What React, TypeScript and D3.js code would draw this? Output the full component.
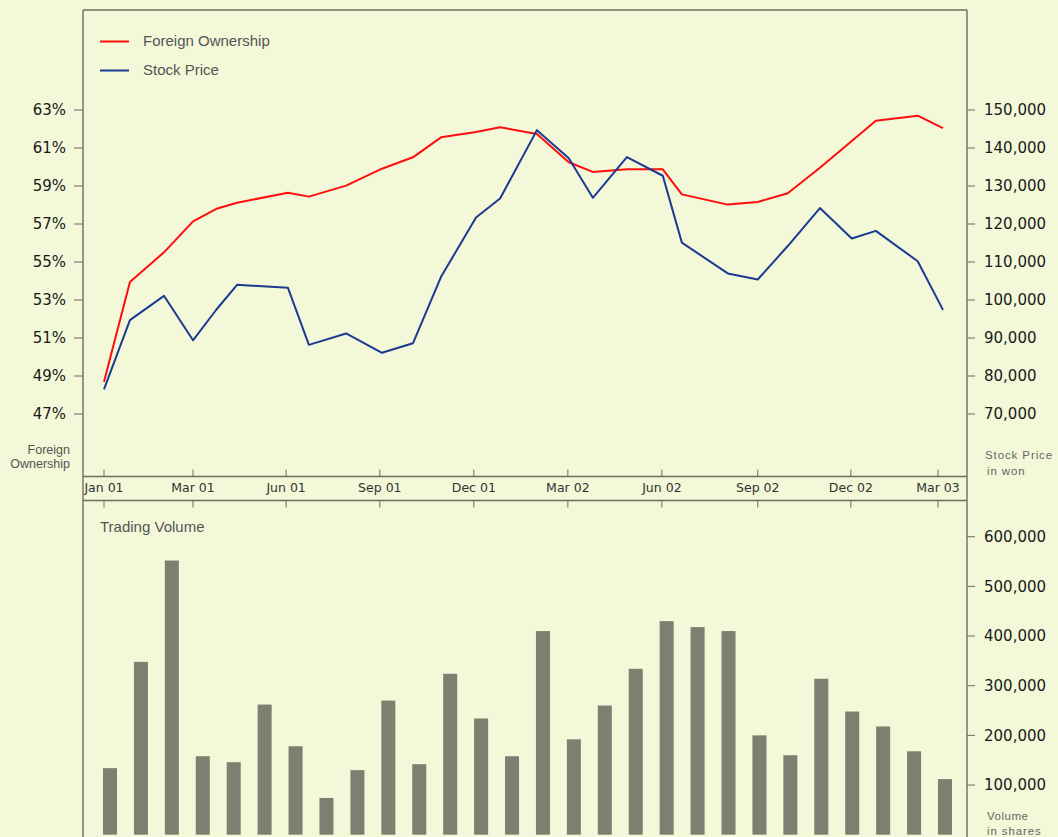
import { scaleLinear, scaleBand, line, format } from 'd3'

// values
const xTickLabels = ['Jan 01', 'Mar 01', 'Jun 01', 'Sep 01', 'Dec 01', 'Mar 02', 'Jun 02', 'Sep 02', 'Dec 02', 'Mar 03']
// tick positions in months since Jan 01 (the original spacing is slightly uneven)
const xTickMonths = [0, 2.85, 5.83, 8.83, 11.84, 14.85, 17.86, 20.93, 23.91, 26.7]

const pointMonths = [0, 0.83, 1.92, 2.85, 3.6, 4.26, 5.89, 6.56, 7.75, 8.9, 9.89, 10.79, 11.91, 12.68, 13.86,
  14.88, 15.65, 16.74, 17.89, 18.5, 19.97, 20.93, 21.89, 22.92, 23.94, 24.71, 26.05, 26.86]
const ownershipPct = [48.7, 53.95, 55.51, 57.14, 57.8, 58.12, 58.65, 58.44, 59.02, 59.91, 60.51, 61.56, 61.84, 62.09, 61.74,
  60.25, 59.74, 59.88, 59.88, 58.56, 58.02, 58.16, 58.62, 59.96, 61.37, 62.44, 62.7, 62.05]
const stockPrice = [76500, 94700, 101100, 89400, 97500, 104000, 103200, 88200, 91200, 86100, 88600, 106100, 121700, 126700, 144700,
  137300, 126900, 137600, 132700, 115100, 107000, 105400, 114200, 124200, 116200, 118200, 110200, 97400]

const volume = [134000, 348000, 552000, 158000, 146000, 262000, 178000, 74000, 130000, 270000, 142000, 324000, 234000, 158000,
  410000, 192000, 260000, 334000, 430000, 418000, 410000, 200000, 160000, 314000, 248000, 218000, 168000, 112000]

const pctTicks = [47, 49, 51, 53, 55, 57, 59, 61, 63]
const priceTicks = [70000, 80000, 90000, 100000, 110000, 120000, 130000, 140000, 150000]
const volumeTicks = [100000, 200000, 300000, 400000, 500000, 600000]

const legendItems = [
  { label: 'Foreign Ownership', color: '#ff0d0d' },
  { label: 'Stock Price', color: '#1b3a92' },
]

const W = 1058
const H = 837
const left = 83
const right = 967
const top = 10
const axisTop = 476.5
const axisBottom = 500.5
const frame = '#6e6e5e'
const bg = '#f2f8d8'
const numFont = '"DejaVu Sans", sans-serif'
const textFont = '"Liberation Sans", Arial, sans-serif'

const App = () => {
  const x = scaleLinear().domain([0, 26.7]).range([left + 21, right - 29])
  const yPct = scaleLinear().domain([47, 63]).range([414, 110])
  const yPrice = scaleLinear().domain([70000, 150000]).range([414, 110])
  const yVol = scaleLinear().domain([0, 600000]).range([834.7, 536.7])
  const xBar = scaleBand<number>()
    .domain(volume.map((_, i) => i))
    .range([103, 952])
    .paddingInner(0.547)
    .paddingOuter(0)

  const fmt = format(',')

  const ownershipLine = line<number>()
    .x((_, i) => x(pointMonths[i]))
    .y(d => yPct(d))
  const priceLine = line<number>()
    .x((_, i) => x(pointMonths[i]))
    .y(d => yPrice(d))

  return (
    <svg width={W} height={H} style={{ position: 'absolute', left: 0, top: 0, background: bg }}>
      <rect x={0} y={0} width={W} height={H} fill={bg} />

      {/* frame */}
      <g stroke={frame} strokeWidth={1.4} fill="none">
        <line x1={left} y1={top} x2={right} y2={top} />
        <line x1={left} y1={top} x2={left} y2={H} />
        <line x1={right} y1={top} x2={right} y2={H} />
        <line x1={left} y1={axisTop} x2={right} y2={axisTop} />
        <line x1={left} y1={axisBottom} x2={right} y2={axisBottom} />
      </g>

      {/* x axis band */}
      {xTickMonths.map((m, i) => (
        <g key={xTickLabels[i]} transform={`translate(${x(m)},0)`}>
          <line y1={axisTop - 7} y2={axisTop} stroke={frame} strokeWidth={1} />
          <line y1={axisBottom} y2={axisBottom + 7} stroke={frame} strokeWidth={1} />
          <text y={492} textAnchor="middle" fontFamily={numFont} fontSize={12.5} fill="#333">
            {xTickLabels[i]}
          </text>
        </g>
      ))}

      {/* left axis: ownership */}
      {pctTicks.map(t => (
        <g key={t} transform={`translate(0,${yPct(t)})`}>
          <line x1={left - 9} x2={left} stroke={frame} strokeWidth={1} />
          <text x={66} dy="0.35em" textAnchor="end" fontFamily={numFont} fontSize={15} fill="#1a1a1a">
            {t}%
          </text>
        </g>
      ))}
      <text x={70} y={454} textAnchor="end" fontFamily={textFont} fontSize={12.5} fill="#555">Foreign</text>
      <text x={70} y={468} textAnchor="end" fontFamily={textFont} fontSize={12.5} fill="#555">Ownership</text>

      {/* right axis: stock price */}
      {priceTicks.map(t => (
        <g key={t} transform={`translate(0,${yPrice(t)})`}>
          <line x1={right} x2={right + 8} stroke={frame} strokeWidth={1} />
          <text x={984} dy="0.35em" fontFamily={numFont} fontSize={15} fill="#1a1a1a">
            {fmt(t)}
          </text>
        </g>
      ))}
      <text x={985} y={459} fontFamily={textFont} fontSize={11.5} letterSpacing={0.9} fill="#666">Stock Price</text>
      <text x={987} y={475} fontFamily={textFont} fontSize={11.5} letterSpacing={0.9} fill="#666">in won</text>

      {/* lines */}
      <path d={ownershipLine(ownershipPct) ?? ''} fill="none" stroke={legendItems[0].color} strokeWidth={2} strokeLinejoin="round" />
      <path d={priceLine(stockPrice) ?? ''} fill="none" stroke={legendItems[1].color} strokeWidth={2} strokeLinejoin="round" />

      {/* legend */}
      {legendItems.map((d, i) => (
        <g key={d.label} transform={`translate(100,${41.5 + i * 29})`}>
          <line x1={0} x2={29} stroke={d.color} strokeWidth={2} />
          <text x={43} dy="0.33em" fontFamily={textFont} fontSize={15} fill="#555">{d.label}</text>
        </g>
      ))}

      {/* trading volume */}
      <text x={100} y={532} fontFamily={textFont} fontSize={15} fill="#555">Trading Volume</text>
      {volume.map((v, i) => (
        <rect
          key={i}
          x={xBar(i)}
          y={yVol(v)}
          width={xBar.bandwidth()}
          height={yVol(0) - yVol(v)}
          fill="#7f7f71"
        />
      ))}
      {volumeTicks.map(t => (
        <g key={t} transform={`translate(0,${yVol(t)})`}>
          <line x1={right} x2={right + 8} stroke={frame} strokeWidth={1} />
          <text x={984} dy="0.35em" fontFamily={numFont} fontSize={15} fill="#1a1a1a">
            {fmt(t)}
          </text>
        </g>
      ))}
      <text x={987} y={820} fontFamily={textFont} fontSize={11.5} letterSpacing={0.5} fill="#666">Volume</text>
      <text x={987} y={835} fontFamily={textFont} fontSize={11.5} letterSpacing={0.9} fill="#666">in shares</text>
    </svg>
  )
}

export default App
